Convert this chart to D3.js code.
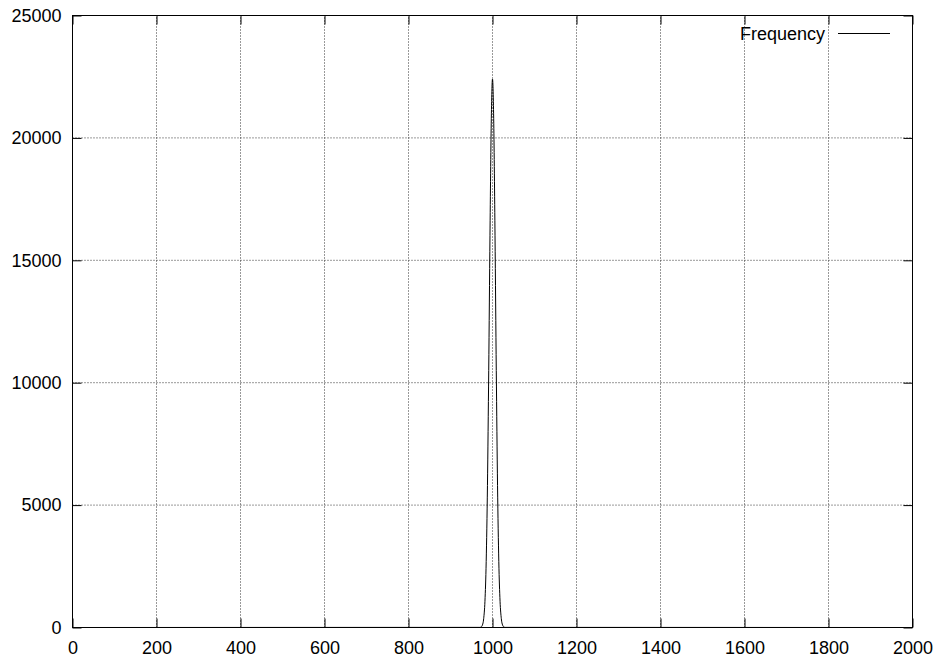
<!DOCTYPE html>
<html>
<head>
<meta charset="utf-8">
<script src="https://cdn.jsdelivr.net/npm/d3@7"></script>
<style>
  body { margin: 0; background: #fff; }
  text { font-family: "Liberation Sans", Arial, sans-serif; font-size: 18px; fill: #000; }
</style>
</head>
<body>
<div id="chart"></div>
<script>
const width = 935;
const height = 660;

// data
const xTicks = [0, 200, 400, 600, 800, 1000, 1200, 1400, 1600, 1800, 2000];
const yTicks = [0, 5000, 10000, 15000, 20000, 25000];
const seriesName = 'Frequency';
const freqX = [0, 970, 973, 976, 979, 982, 985, 988, 991, 994, 997, 1000,
  1003, 1006, 1009, 1012, 1015, 1018, 1021, 1024, 1027, 1030, 2000];
const freqY = [0, 5, 24, 100, 360, 1070, 2700, 5800, 10500, 16000, 20600, 22400,
  20600, 16000, 10500, 5800, 2700, 1070, 360, 100, 24, 5, 0];

// 画布
let svg = d3.select('#chart').append('svg')
  .attr('width', width)
  .attr('height', height);

let x = d3.scaleLinear().domain([0, 2000]).range([72.5, 912.5]);
let y = d3.scaleLinear().domain([0, 25000]).range([627.5, 15.5]);

// 网格
let grid = svg.append('g');
grid.selectAll('line.vg')
  .data(xTicks.slice(1, -1))
  .enter().append('line')
  .attr('x1', d => x(d)).attr('x2', d => x(d))
  .attr('y1', y(0)).attr('y2', y(25000))
  .style('stroke', '#333')
  .style('stroke-width', 1)
  .style('stroke-dasharray', '1,2');
grid.selectAll('line.hg')
  .data(yTicks.slice(1, -1))
  .enter().append('line')
  .attr('x1', x(0)).attr('x2', x(2000))
  .attr('y1', d => y(d)).attr('y2', d => y(d))
  .style('stroke', '#333')
  .style('stroke-width', 1)
  .style('stroke-dasharray', '1,2');

// 坐标轴 (刻度朝内)
let tickLen = 9;
let xAxis = d3.axisBottom(x).tickValues(xTicks).tickSize(-tickLen).tickPadding(14).tickFormat(d3.format('d'));
let xAxisTop = d3.axisTop(x).tickValues(xTicks).tickSize(-tickLen).tickFormat('');
let yAxis = d3.axisLeft(y).tickValues(yTicks).tickSize(-tickLen).tickPadding(11).tickFormat(d3.format('d'));
let yAxisRight = d3.axisRight(y).tickValues(yTicks).tickSize(-tickLen).tickFormat('');

function styleAxis(g) {
  g.select('.domain').remove();
  g.selectAll('.tick line').style('stroke', '#000').style('stroke-width', 1);
  g.selectAll('.tick text')
    .style('font-family', '"Liberation Sans", Arial, sans-serif')
    .style('font-size', '18px')
    .style('fill', '#000');
}

svg.append('g').attr('transform', `translate(0,${y(0)})`).call(xAxis).call(styleAxis);
svg.append('g').attr('transform', `translate(0,${y(25000)})`).call(xAxisTop).call(styleAxis);
svg.append('g').attr('transform', `translate(${x(0)},0)`).call(yAxis).call(styleAxis);
svg.append('g').attr('transform', `translate(${x(2000)},0)`).call(yAxisRight).call(styleAxis);

// 曲线
let pts = freqX.map((v, i) => [v, freqY[i]]);
let line = d3.line().x(d => x(d[0])).y(d => y(d[1])).curve(d3.curveMonotoneX);
svg.append('path')
  .datum(pts)
  .attr('d', line)
  .style('fill', 'none')
  .style('stroke', '#000')
  .style('stroke-width', 1);

// 边框
svg.append('rect')
  .attr('x', x(0)).attr('y', y(25000))
  .attr('width', x(2000) - x(0))
  .attr('height', y(0) - y(25000))
  .style('fill', 'none')
  .style('stroke', '#000')
  .style('stroke-width', 1);

// 图例
let legend = svg.append('g');
legend.append('text')
  .text(seriesName)
  .attr('x', 825)
  .attr('y', 40)
  .attr('text-anchor', 'end');
legend.append('line')
  .attr('x1', 838).attr('x2', 890)
  .attr('y1', 33.5).attr('y2', 33.5)
  .style('stroke', '#000')
  .style('stroke-width', 1);
</script>
</body>
</html>
